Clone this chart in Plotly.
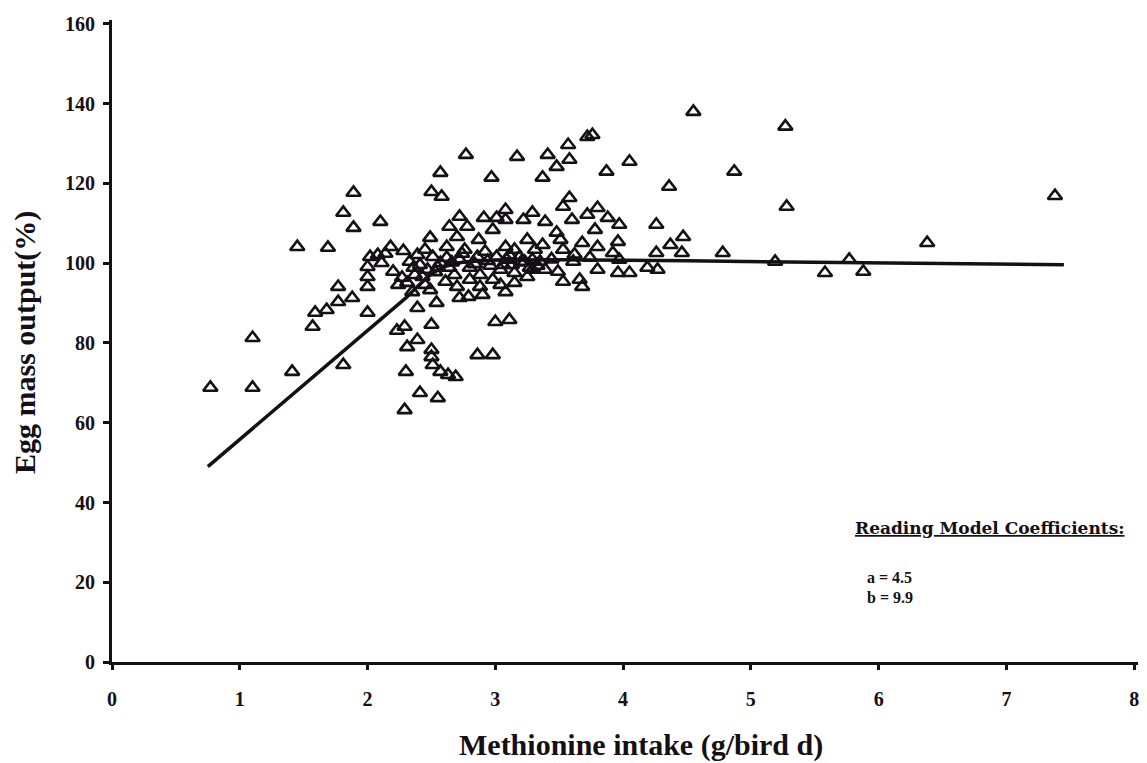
import plotly.graph_objects as go

# Observed data points (methionine intake g/bird d, egg mass output %)
intake = [
    0.77, 1.10, 1.10, 1.41, 1.45, 1.57, 1.59, 1.68, 1.69, 1.77,
    1.77, 1.81, 1.81, 1.88, 1.89, 1.89, 2.00, 2.00, 2.00, 2.00,
    2.02, 2.08, 2.11, 2.10, 2.14, 2.18, 2.20, 2.23, 2.28, 2.29,
    2.30, 2.31, 2.29, 2.31, 2.39, 2.36, 2.41, 2.43, 2.39, 2.49,
    2.50, 2.50, 2.50, 2.54, 2.55, 2.51, 2.57, 2.63, 2.69, 2.57,
    2.50, 2.58, 2.77, 2.86, 2.98, 3.00, 3.11, 2.97, 3.17, 3.37,
    3.41, 3.48, 3.57, 3.58, 3.72, 3.76, 3.87, 4.05, 4.36, 4.55,
    4.87, 5.27, 5.28, 4.78, 5.19, 5.58, 5.77, 5.88, 6.38, 7.38,
    2.72, 2.64, 2.78, 2.91, 2.98, 3.08, 3.01, 3.08, 3.29, 3.22,
    2.49, 2.62, 2.70, 2.87, 3.08, 3.25, 2.51, 2.62, 2.72, 2.86,
    3.01, 3.09, 3.19, 3.29, 2.70, 2.72, 2.79, 2.88, 2.90, 2.98,
    3.08, 3.15, 3.25, 3.29, 2.41, 2.47, 2.57, 2.64, 2.68, 2.80,
    2.88, 2.96, 3.04, 3.13, 3.15, 3.23, 3.27, 3.35, 3.39, 2.39,
    2.45, 2.76, 2.92, 3.15, 3.31, 2.35, 2.45, 2.61, 2.80, 3.04,
    3.39, 3.72, 3.80, 3.88, 3.97, 3.78, 3.60, 3.48, 3.58, 3.53,
    4.26, 4.47, 4.37, 4.46, 4.26, 3.68, 3.80, 3.96, 3.92, 3.53,
    3.37, 3.49, 3.53, 3.68, 3.66, 3.80, 3.96, 4.05, 4.19, 4.27,
    3.61, 3.51, 3.97, 3.74, 2.33, 2.27, 2.37, 2.24, 2.55, 2.66,
    2.84, 2.94, 3.06, 3.20, 3.33, 2.53, 2.74, 3.11, 3.44, 3.62,
]
egg_mass = [
    68.8, 81.3, 68.8, 72.8, 104.1, 84.1, 87.6, 88.3, 103.9, 90.3,
    94.1, 74.5, 112.7, 91.3, 117.7, 108.9, 87.6, 94.1, 96.6, 99.1,
    101.6, 102.1, 100.1, 110.4, 102.4, 104.1, 97.9, 83.1, 103.1, 63.2,
    72.8, 79.0, 84.1, 95.1, 80.8, 98.9, 67.5, 96.6, 88.8, 93.3,
    84.6, 78.3, 76.5, 90.1, 66.2, 74.5, 72.8, 72.0, 71.5, 122.7,
    117.9, 116.7, 127.2, 77.0, 77.0, 85.3, 85.8, 121.5, 126.7, 121.5,
    127.2, 124.2, 129.7, 126.0, 131.7, 132.2, 123.0, 125.5, 119.2, 138.0,
    123.0, 134.3, 114.2, 102.6, 100.4, 97.6, 100.9, 97.9, 105.1, 116.9,
    111.7, 109.2, 109.2, 111.4, 108.4, 113.4, 111.4, 110.9, 112.7, 110.9,
    106.4, 104.1, 106.6, 105.9, 104.1, 105.9, 101.6, 101.4, 100.9, 101.6,
    101.6, 100.9, 101.6, 100.9, 94.1, 91.3, 91.6, 94.1, 92.1, 95.9,
    92.8, 95.1, 96.6, 98.4, 99.6, 98.4, 100.1, 98.9, 97.1, 98.9,
    97.1, 99.4, 98.4, 99.6, 97.6, 100.4, 98.9, 100.4, 98.4, 102.1,
    103.4, 103.4, 102.9, 103.4, 103.4, 92.8, 94.6, 95.4, 95.9, 94.6,
    110.4, 112.2, 113.9, 111.4, 109.7, 108.4, 110.9, 107.7, 116.4, 114.2,
    109.7, 106.6, 104.6, 102.6, 102.6, 105.1, 104.1, 105.4, 102.6, 103.4,
    104.6, 97.9, 95.4, 94.1, 95.9, 98.4, 97.6, 97.6, 98.9, 98.4,
    100.4, 105.9, 100.9, 101.4, 100.4, 96.4, 97.1, 94.6, 99.0, 100.2,
    99.8, 100.6, 99.6, 100.2, 99.4, 97.8, 102.4, 102.0, 101.0, 102.2,
]

# Fitted Reading model response curve
model_x = [0.75, 2.30, 2.40, 2.50, 2.60, 2.75, 3.00, 3.50, 4.50, 7.45]
model_y = [49.0, 91.3, 94.5, 97.3, 99.2, 100.3, 100.8, 100.9, 100.6, 99.6]

x_ticks = [0, 1, 2, 3, 4, 5, 6, 7, 8]
y_ticks = [0, 20, 40, 60, 80, 100, 120, 140, 160]

coef_title = "Reading Model Coefficients:"
coef_lines = ["a = 4.5", "b = 9.9"]

FONT = "Liberation Serif"
INK = "#141014"

fig = go.Figure()
fig.add_trace(go.Scatter(
    x=model_x, y=model_y, mode="lines",
    line=dict(color=INK, width=3.5), hoverinfo="skip", showlegend=False,
))
fig.add_trace(go.Scatter(
    x=intake, y=egg_mass, mode="markers",
    marker=dict(symbol="triangle-up-open", size=12.5, color=INK,
                line=dict(color=INK, width=2.6)),
    showlegend=False,
))

tick_font = dict(family=FONT, size=20, color=INK)

fig.update_layout(
    width=1147, height=763,
    margin=dict(l=112, r=9, t=20, b=101),
    paper_bgcolor="white", plot_bgcolor="white",
    font=dict(family=FONT, color=INK),
    xaxis=dict(
        range=[0, 8.03], tickvals=x_ticks,
        ticktext=["<b>%d</b>" % v for v in x_ticks],
        showgrid=False, zeroline=False, showline=True, linecolor=INK, linewidth=3,
        ticks="outside", ticklen=5, tickwidth=3, tickcolor=INK,
        tickfont=tick_font, ticklabelstandoff=12,
    ),
    yaxis=dict(
        range=[0, 161], tickvals=y_ticks,
        ticktext=["<b>%d</b>" % v for v in y_ticks],
        showgrid=False, zeroline=False, showline=True, linecolor=INK, linewidth=3,
        ticks="outside", ticklen=6, tickwidth=3, tickcolor=INK,
        tickfont=tick_font, ticklabelstandoff=4,
    ),
    annotations=[
        dict(text="<b>Methionine intake (g/bird d)</b>", xref="paper", yref="paper",
             x=0.516, y=-0.129, showarrow=False, xanchor="center", yanchor="middle",
             font=dict(family=FONT, size=30, color=INK)),
        dict(text="<b>Egg mass output(%)</b>", xref="paper", yref="paper",
             x=-0.085, y=0.498, showarrow=False, xanchor="center", yanchor="middle",
             textangle=-90, font=dict(family=FONT, size=30, color=INK)),
        dict(text="<b><u>" + coef_title + "</u></b>", xref="x", yref="y",
             x=5.80, y=33.6, showarrow=False, xanchor="left", yanchor="middle",
             font=dict(family="DejaVu Serif", size=17, color=INK)),
        dict(text="<b>" + coef_lines[0] + "</b>", xref="x", yref="y",
             x=5.89, y=21.3, showarrow=False, xanchor="left", yanchor="middle",
             font=dict(family=FONT, size=16, color=INK)),
        dict(text="<b>" + coef_lines[1] + "</b>", xref="x", yref="y",
             x=5.89, y=16.1, showarrow=False, xanchor="left", yanchor="middle",
             font=dict(family=FONT, size=16, color=INK)),
    ],
)

fig.write_html("out.html")
